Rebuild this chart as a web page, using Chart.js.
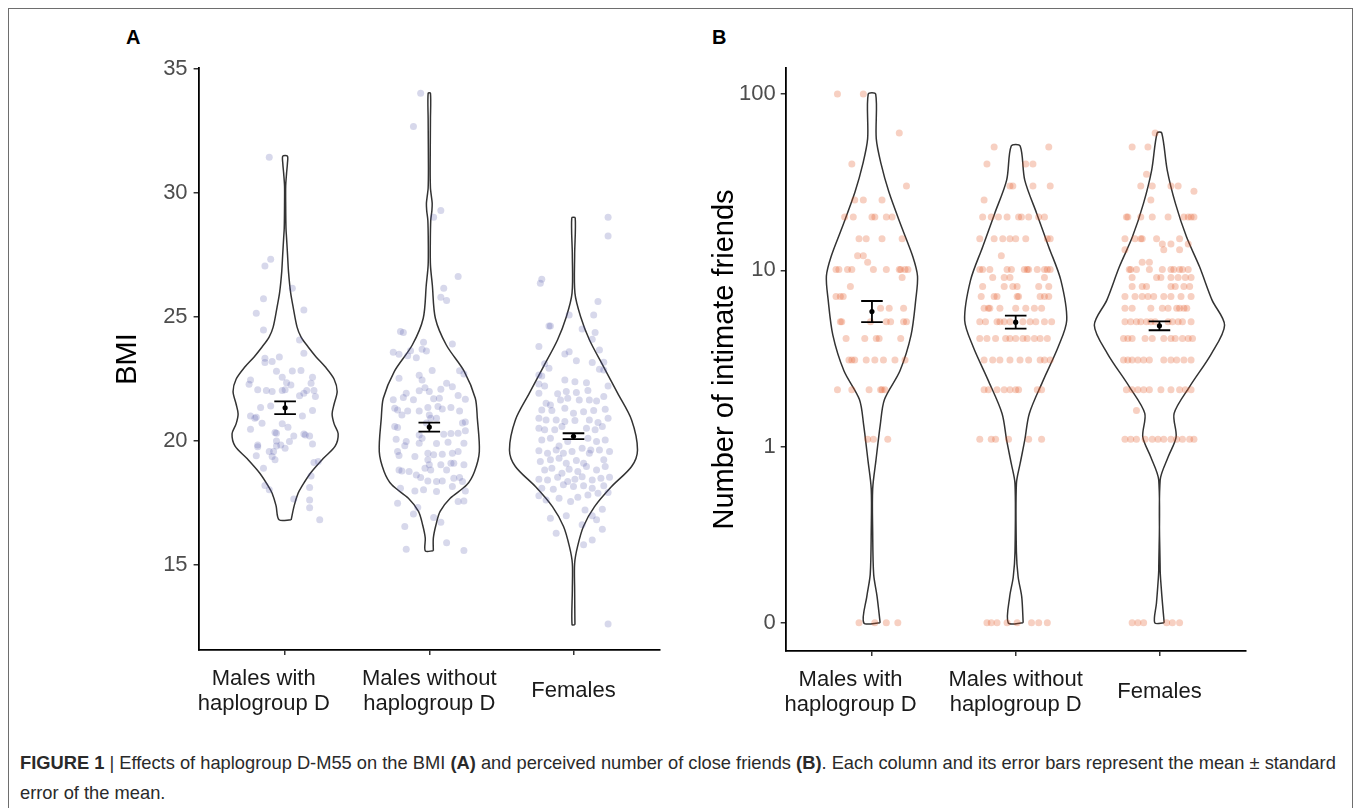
<!DOCTYPE html>
<html>
<head>
<meta charset="utf-8">
<script src="https://cdn.jsdelivr.net/npm/chart.js@4.4.1/dist/chart.umd.min.js"></script>
<style>
  body { margin: 0; background: #fff; width: 1355px; height: 808px; overflow: hidden; position: relative;
         font-family: "Liberation Sans", Arial, sans-serif; }
  .frame { position: absolute; left: 8px; top: 8px; width: 1343px; height: 900px; border: 1px solid #6e6e6e; }
  .panel { position: absolute; top: 40px; width: 575px; height: 700px; }
  .tag { position: absolute; top: 27px; font-size: 20px; line-height: 20px; font-weight: bold; color: #000; }
  .cap { position: absolute; left: 20px; color: #2a2a2a; white-space: nowrap; line-height: 30px; font-size: 19px;
         transform-origin: 0 50%; }
</style>
</head>
<body>
<div class="frame"></div>
<div class="tag" style="left:126px">A</div>
<div class="tag" style="left:712px">B</div>
<div class="panel" style="left:100px"><canvas id="bmiChart" width="575" height="700"></canvas></div>
<div class="panel" style="left:688px"><canvas id="friendsChart" width="575" height="700"></canvas></div>
<div class="cap" id="cap1" style="top:748px"><b>FIGURE 1</b> | Effects of haplogroup D-M55 on the BMI <b>(A)</b> and perceived number of close friends <b>(B)</b>. Each column and its error bars represent the mean ± standard</div>
<div class="cap" id="cap2" style="top:778px">error of the mean.</div>

<script>
// categories (x axis)
const groups = [['Males with', 'haplogroup D'], ['Males without', 'haplogroup D'], 'Females'];

// panel A : BMI ticks
const bmiTicks = [15, 20, 25, 30, 35];

// panel B : friends, plotted as log10(n + 0.1)
const friendTickAt = [0.1, 1, 10, 100];
const friendTickLabels = ['0', '1', '10', '100'];

// BMI points : [jitter, BMI]
const bmiWithD = [[-0.11,31.45],[-0.10,27.34],[-0.14,27.07],[0.05,26.17],[-0.15,25.74],[-0.20,25.16],[0.13,25.29],[-0.15,24.48],[0.10,24.08],[0.13,23.55],[-0.14,23.35],[-0.09,23.21],[-0.04,23.4],[-0.14,23.17],[-0.06,22.82],[0.05,22.83],[0.11,22.85],[-0.24,22.47],[-0.02,22.58],[0.19,22.58],[-0.25,22.3],[0.01,22.36],[0.04,22.27],[0.18,22.34],[-0.19,22.07],[-0.13,22.04],[-0.09,22.0],[-0.02,22.04],[0,22.07],[0.15,22.04],[0.10,21.83],[0.13,21.93],[0.20,22.04],[0.21,21.8],[-0.17,21.36],[-0.10,21.42],[0.19,21.24],[0.12,21.02],[-0.24,21.02],[-0.21,20.93],[-0.20,20.97],[-0.16,20.72],[-0.02,20.70],[0.02,20.56],[-0.24,20.48],[-0.07,20.35],[-0.06,20.32],[0.06,20.21],[0.13,20.29],[0.14,20.25],[0.17,20.21],[-0.06,20.01],[0.03,19.99],[0.19,19.89],[-0.19,19.85],[-0.19,19.78],[-0.06,19.81],[-0.03,19.85],[0,19.72],[-0.11,19.58],[-0.08,19.58],[-0.20,19.41],[-0.09,19.38],[-0.07,19.25],[0.20,19.14],[0.23,19.18],[-0.15,18.91],[0.18,18.60],[-0.14,18.21],[-0.11,18.04],[0.17,18.13],[0.06,17.67],[0.17,17.63],[0.17,17.32],[0.24,16.83]];
const bmiWithoutD = [[-0.06,34.03],[-0.11,32.69],[0.08,29.30],[0.03,29.03],[0.20,26.64],[0.10,26.17],[0.08,25.81],[0.12,25.67],[-0.20,24.42],[-0.18,24.38],[0.16,23.92],[-0.04,23.99],[-0.25,23.59],[-0.21,23.51],[-0.13,23.65],[-0.05,23.71],[-0.02,23.64],[-0.09,23.37],[-0.15,23.45],[0.21,22.84],[0.24,22.71],[0.02,22.85],[-0.07,22.66],[-0.21,22.54],[-0.05,22.47],[0.12,22.34],[0.16,22.20],[0.08,22.10],[0,22.0],[-0.07,22.03],[-0.03,22.16],[-0.16,21.93],[-0.25,21.67],[-0.18,21.76],[-0.11,21.67],[0.20,21.84],[0.25,21.69],[0.03,21.71],[0.07,21.73],[-0.24,21.33],[-0.22,21.26],[-0.19,21.06],[-0.15,21.22],[-0.07,21.22],[-0.01,21.36],[0.06,21.40],[0.09,21.30],[0.15,21.36],[0.21,21.22],[0,21.06],[0.01,20.93],[0.05,20.93],[-0.02,20.73],[-0.24,20.59],[-0.22,20.55],[0.23,20.73],[0.25,20.77],[0.10,20.28],[0.15,20.31],[0.20,20.32],[0.25,20.42],[-0.07,20.25],[-0.05,20.12],[-0.23,20.08],[-0.16,19.99],[-0.17,19.82],[-0.07,19.92],[0.05,19.91],[0.13,19.96],[0.24,19.92],[-0.22,19.58],[-0.21,19.42],[-0.10,19.38],[-0.01,19.51],[0.03,19.45],[0.09,19.47],[0.16,19.51],[0.20,19.58],[-0.01,19.25],[0,19.05],[0.08,19.05],[0.15,19.11],[0.17,19.11],[-0.21,18.84],[-0.19,18.80],[-0.14,18.78],[-0.09,18.64],[-0.03,18.91],[0.01,18.84],[0.12,18.84],[0.24,19.05],[-0.06,18.54],[-0.01,18.40],[0.05,18.37],[0.09,18.40],[0.17,18.51],[0.21,18.54],[0.23,18.37],[-0.20,18.10],[-0.10,17.99],[-0.04,18.04],[0.05,17.97],[0.16,18.17],[0.25,17.99],[-0.22,17.50],[-0.08,17.33],[0.20,17.57],[0.24,17.59],[-0.11,17.06],[0.03,16.92],[-0.17,16.56],[0.08,16.73],[-0.16,15.64],[0.12,15.90],[0.24,15.59]];
const bmiFemales = [[0.24,29.03],[0.24,28.28],[-0.23,26.37],[-0.22,26.53],[0.17,25.63],[-0.17,24.65],[-0.16,24.65],[0.14,25.09],[-0.03,25.09],[-0.24,23.82],[0.06,24.52],[0.15,24.38],[0.13,24.11],[-0.06,23.52],[-0.03,23.61],[0.18,23.68],[-0.20,23.12],[0.02,23.24],[0.21,23.18],[0.13,23.17],[-0.24,22.67],[-0.22,22.63],[-0.17,22.94],[0.18,22.90],[0.21,22.87],[-0.06,22.47],[0.01,22.40],[0.09,22.36],[-0.24,22.31],[-0.20,22.23],[0.24,22.23],[-0.11,21.91],[-0.05,22.0],[0.02,21.96],[0.10,22.04],[-0.24,21.93],[-0.19,21.53],[-0.16,21.46],[-0.09,21.66],[-0.04,21.73],[0.04,21.66],[0.11,21.66],[0.16,21.62],[0.21,21.80],[-0.22,21.26],[-0.15,21.24],[-0.06,21.33],[0,21.13],[0.07,21.19],[0.14,21.24],[0.22,21.29],[-0.24,20.93],[-0.19,20.86],[-0.12,20.86],[-0.06,20.79],[0.01,20.83],[0.11,20.86],[0.17,20.75],[0.24,20.93],[-0.24,20.52],[-0.20,20.46],[-0.13,20.46],[-0.08,20.59],[0.09,20.52],[0.15,20.46],[0.20,20.59],[-0.22,20.05],[-0.16,20.12],[-0.10,19.81],[-0.04,19.99],[0.10,20.12],[0.16,19.99],[0.22,20.05],[-0.24,19.62],[-0.18,19.51],[-0.12,19.65],[-0.07,19.51],[-0.01,19.58],[0.06,19.72],[0.12,19.65],[0.18,19.65],[0.25,19.58],[-0.23,19.18],[-0.16,19.25],[-0.10,19.31],[-0.05,19.11],[0.02,19.22],[0.07,19.11],[0.11,19.51],[0.21,19.25],[-0.20,18.84],[-0.15,18.91],[-0.08,18.71],[-0.03,18.87],[0.03,18.78],[0.09,18.98],[0.16,18.84],[0.22,18.98],[-0.24,18.47],[-0.18,18.44],[-0.11,18.55],[-0.04,18.37],[0.01,18.47],[0.06,18.57],[0.13,18.44],[0.19,18.51],[0.25,18.55],[-0.22,18.10],[-0.14,18.06],[-0.07,18.24],[0,18.17],[0.07,18.20],[0.13,18.10],[0.21,18.20],[-0.24,17.80],[-0.19,17.63],[-0.10,17.70],[-0.02,17.57],[0.03,17.74],[0.10,17.83],[0.17,17.90],[0.24,17.93],[-0.16,16.89],[-0.05,16.99],[0.08,17.23],[0.13,16.99],[0.16,16.83],[0.20,17.26],[-0.12,16.29],[0.06,16.63],[0.13,16.02],[0.07,15.82],[0.20,16.45],[0.24,12.63]];

// BMI violin outlines : [BMI, half width]
const bmiShapeWithD = [[16.83,0.042],[17.4,0.063],[17.9,0.090],[18.2,0.118],[18.7,0.174],[19.3,0.264],[19.8,0.347],[20.3,0.368],[20.7,0.340],[21.1,0.326],[21.5,0.340],[22.0,0.361],[22.5,0.340],[23.0,0.278],[23.4,0.215],[23.8,0.160],[24.2,0.111],[24.6,0.083],[25.4,0.056],[26.0,0.038],[26.8,0.024],[27.5,0.017],[28.2,0.010],[28.6,0.006],[29.5,0.004],[30.3,0.004],[30.8,0.010],[31.2,0.016],[31.5,0.016]];
const bmiShapeWithoutD = [[15.58,0.028],[16.09,0.028],[16.62,0.046],[17.17,0.075],[17.7,0.145],[18.24,0.26],[18.77,0.313],[19.58,0.347],[20.93,0.333],[21.73,0.319],[22.81,0.243],[23.88,0.118],[24.96,0.042],[26.3,0.021],[27.1,0.008],[28.0,0.007],[28.9,0.010],[29.3,0.018],[29.6,0.02],[29.9,0.014],[30.2,0.008],[31.0,0.006],[33.0,0.008],[34.03,0.008]];
const bmiShapeFemales = [[12.6,0.010],[14.0,0.008],[15.08,0.008],[15.75,0.028],[16.56,0.069],[17.36,0.146],[18.17,0.264],[18.98,0.403],[19.65,0.444],[20.86,0.403],[21.94,0.306],[23.01,0.208],[24.08,0.111],[25.03,0.049],[25.97,0.010],[27.5,0.008],[29.0,0.012]];

// BMI mean and standard error
const bmiMean = [21.35, 20.57, 20.2];
const bmiSe = [0.26, 0.18, 0.12];

// friends points : [jitter, number of friends]
const friendsWithD = [[-0.24,100],[-0.06,100],[0.19,60],[-0.14,40],[0.24,30],[-0.12,25],[-0.06,25],[0.07,25],[-0.19,20],[-0.13,20],[0,20],[0.02,20],[0.10,20],[0.14,20],[-0.09,15],[-0.04,15],[0.07,15],[0.21,15],[-0.06,12],[-0.10,12],[-0.03,11],[-0.25,10],[-0.23,10],[-0.17,10],[-0.14,10],[0.01,10],[0.10,10],[0.19,10],[0.20,10],[0.23,10],[0.25,10],[0.21,9],[-0.15,8],[-0.25,7],[-0.22,7],[-0.20,7],[0.06,6],[0.12,6],[0.22,6],[-0.22,5],[-0.21,5],[-0.01,5],[0.10,5],[0.13,5],[0.22,5],[0.24,5],[-0.18,4],[-0.05,4],[0.03,4],[0.05,4],[0.20,4],[-0.16,3],[-0.14,3],[-0.12,3],[-0.04,3],[0.02,3],[0.08,3],[0.16,3],[0.23,3],[-0.24,2],[-0.14,2],[-0.02,2],[0.06,2],[0.07,2],[0.09,2],[-0.03,1],[0.01,1],[0.11,1],[-0.09,0],[0.02,0],[0.10,0],[0.18,0]];
const friendsWithoutD = [[-0.15,50],[0.23,50],[-0.20,40],[0.07,40],[0.12,40],[-0.04,30],[-0.02,30],[0.12,30],[0.24,30],[-0.22,25],[-0.23,20],[-0.17,20],[-0.12,20],[-0.06,20],[0.02,20],[0.04,20],[0.09,20],[0.16,20],[0.20,20],[-0.25,15],[-0.15,15],[-0.09,15],[-0.04,15],[0,15],[0.07,15],[0.22,15],[0.24,15],[-0.10,12],[-0.25,10],[-0.23,10],[-0.18,10],[-0.06,10],[-0.03,10],[0.06,10],[0.08,10],[0.09,10],[0.15,10],[0.20,10],[0.22,10],[0.24,10],[-0.16,9],[-0.08,9],[-0.04,9],[0.20,9],[-0.23,8],[-0.08,8],[-0.02,8],[0.01,8],[0.16,8],[0.23,8],[-0.24,7],[-0.15,7],[-0.13,7],[0.01,7],[0.02,7],[0.17,7],[0.20,7],[0.23,7],[-0.22,6],[-0.19,6],[-0.18,6],[-0.11,6],[0,6],[0.07,6],[0.13,6],[0.18,6],[-0.25,5],[-0.21,5],[-0.13,5],[-0.11,5],[-0.08,5],[-0.04,5],[0.05,5],[0.10,5],[0.14,5],[0.20,5],[0.25,5],[-0.25,4],[-0.20,4],[-0.14,4],[-0.07,4],[-0.04,4],[0,4],[0.05,4],[0.08,4],[0.13,4],[0.17,4],[0.22,4],[-0.22,3],[-0.16,3],[-0.11,3],[-0.04,3],[0.03,3],[0.09,3],[0.17,3],[0.20,3],[0.24,3],[-0.22,2],[-0.19,2],[-0.13,2],[-0.08,2],[-0.04,2],[0,2],[0.02,2],[0.15,2],[0.18,2],[-0.25,1],[-0.17,1],[-0.14,1],[-0.05,1],[0.09,1],[0.18,1],[-0.20,0],[-0.17,0],[-0.13,0],[-0.06,0],[0.01,0],[0.11,0],[0.16,0],[0.22,0]];
const friendsFemales = [[-0.03,60],[-0.19,50],[-0.08,50],[-0.09,35],[-0.13,30],[-0.05,30],[0.08,30],[0.13,30],[0.24,28],[-0.06,25],[-0.23,20],[-0.22,20],[-0.13,20],[-0.05,20],[0.06,20],[0.17,20],[0.20,20],[0.22,20],[0.24,20],[-0.24,15],[-0.17,15],[-0.13,15],[-0.12,15],[-0.02,15],[0.14,15],[0.02,14],[0.08,14],[0.20,14],[-0.24,13],[0.03,13],[0.14,13],[-0.12,11],[-0.07,11],[-0.21,10],[-0.20,10],[-0.16,10],[-0.07,10],[0.02,10],[0.08,10],[0.10,10],[0.14,10],[0.16,10],[0.20,10],[-0.19,9],[-0.02,9],[0.01,9],[0.08,9],[0.13,9],[0.18,9],[0.22,9],[-0.19,8],[-0.12,8],[-0.09,8],[0.08,8],[0.11,8],[0.17,8],[0.21,8],[-0.24,7],[-0.17,7],[-0.12,7],[-0.08,7],[-0.04,7],[0.03,7],[0.08,7],[0.15,7],[0.22,7],[-0.24,6],[-0.19,6],[-0.06,6],[0.02,6],[0.06,6],[0.12,6],[0.14,6],[0.17,6],[0.19,6],[-0.24,5],[-0.20,5],[-0.16,5],[-0.13,5],[-0.09,5],[-0.06,5],[-0.03,5],[0.06,5],[0.09,5],[0.13,5],[0.16,5],[0.22,5],[-0.25,4],[-0.22,4],[-0.19,4],[-0.10,4],[-0.05,4],[0.03,4],[0.08,4],[0.11,4],[0.16,4],[0.20,4],[0.23,4],[-0.25,3],[-0.22,3],[-0.19,3],[-0.15,3],[-0.11,3],[-0.07,3],[0.03,3],[0.08,3],[0.12,3],[0.17,3],[0.22,3],[-0.23,2],[-0.19,2],[-0.15,2],[-0.11,2],[-0.07,2],[0.01,2],[0.08,2],[0.14,2],[0.18,2],[0.22,2],[-0.16,1.5],[-0.24,1],[-0.20,1],[-0.16,1],[-0.10,1],[-0.05,1],[-0.01,1],[0.03,1],[0.08,1],[0.12,1],[0.16,1],[0.21,1],[0.24,1],[-0.19,0],[-0.15,0],[-0.11,0],[0.05,0],[0.09,0],[0.14,0]];

// friends violin outlines : [log10(n + 0.1), half width]
const friendShapeWithD = [[-1.0,0.057],[-0.847,0.035],[-0.725,0.012],[-0.482,0.005],[-0.24,0.005],[-0.077,0.028],[0.125,0.058],[0.267,0.087],[0.43,0.195],[0.632,0.272],[0.835,0.305],[0.967,0.317],[1.078,0.284],[1.24,0.209],[1.444,0.118],[1.605,0.063],[1.747,0.030],[2.0,0.026]];
const friendShapeWithoutD = [[-1.0,0.052],[-0.853,0.042],[-0.74,0.017],[-0.6,0.005],[-0.21,0.005],[-0.096,0.031],[0.036,0.063],[0.188,0.095],[0.377,0.192],[0.566,0.296],[0.717,0.355],[0.944,0.314],[1.133,0.230],[1.323,0.146],[1.512,0.063],[1.705,0.031]];
const friendShapeFemales = [[-1.0,0.033],[-0.89,0.021],[-0.796,0.012],[-0.7,0.005],[-0.19,0.005],[-0.058,0.061],[0.055,0.116],[0.188,0.102],[0.339,0.209],[0.528,0.362],[0.689,0.453],[0.831,0.366],[1.02,0.279],[1.19,0.188],[1.38,0.111],[1.569,0.054],[1.779,0.016]];

// friends mean and standard error, on the log10(n + 0.1) scale
const friendMeanLog = [0.766, 0.706, 0.685];
const friendSeLog = [0.06, 0.037, 0.025];

const FONT = '"Liberation Sans", Arial, sans-serif';
const CAP = 0.075;
const toLog = n => Math.log10(n + 0.1);

function violin(pos, shape) {
  const right = shape.map(s => ({x: pos + s[1], y: s[0]}));
  const left = shape.slice().reverse().map(s => ({x: pos - s[1], y: s[0]}));
  return {
    data: right.concat(left, [right[0]]),
    showLine: true, pointRadius: 0, borderColor: '#333', borderWidth: 1.5,
    tension: 0.3, fill: false, order: 3
  };
}

function cloud(pos, pts, toY, color) {
  return {
    data: pts.map(p => ({x: pos + p[0], y: toY(p[1])})),
    pointRadius: 3.5, pointBackgroundColor: color, pointBorderWidth: 0, order: 2
  };
}

function seBars(means, ses) {
  const sets = [];
  means.forEach((m, i) => {
    const c = i + 1, lo = m - ses[i], hi = m + ses[i];
    const seg = [
      [{x: c, y: lo}, {x: c, y: hi}],
      [{x: c - CAP, y: lo}, {x: c + CAP, y: lo}],
      [{x: c - CAP, y: hi}, {x: c + CAP, y: hi}]
    ];
    seg.forEach(d => sets.push({data: d, showLine: true, pointRadius: 0, borderColor: '#000', borderWidth: 1.8, order: 1}));
  });
  sets.push({
    data: means.map((m, i) => ({x: i + 1, y: m})),
    pointRadius: 2.6, pointBackgroundColor: '#000', pointBorderWidth: 0, order: 0
  });
  return sets;
}

function axisStyle() {
  return {
    grid: {display: true, drawOnChartArea: false, drawTicks: true, tickLength: 5, color: '#333', lineWidth: 1.5},
    border: {display: true, color: '#000', width: 1.8}
  };
}

function options(cfg) {
  return {
    responsive: false, animation: false, devicePixelRatio: 1,
    layout: {padding: {top: 28, right: cfg.rightPad, left: 0, bottom: 0}},
    plugins: {legend: {display: false}, tooltip: {enabled: false}},
    scales: {
      x: Object.assign({
        type: 'linear', min: 0.4, max: 3.6, bounds: 'data',
        afterBuildTicks: s => { s.ticks = [1, 2, 3].map(v => ({value: v})); },
        afterFit: s => { s.height = cfg.xHeight; },
        ticks: {
          autoSkip: false, maxRotation: 0, crossAlign: 'center', padding: 24, color: '#1a1a1a',
          font: {family: FONT, size: 22, lineHeight: 1.13},
          callback: (v, i) => i === 0 ? groups[0].map(t => t + '\u00a0'.repeat(7)) : groups[i]
        }
      }, axisStyle()),
      y: Object.assign({
        type: 'linear', min: cfg.yMin, max: cfg.yMax, bounds: 'data',
        afterBuildTicks: s => { s.ticks = cfg.ticks.map(v => ({value: v})); },
        afterFit: s => { s.width = cfg.yWidth; },
        ticks: {padding: cfg.tickPad, color: '#4d4d4d', font: {family: FONT, size: 22}, callback: cfg.label},
        title: {display: true, text: cfg.title, color: '#000', font: {family: FONT, size: 29},
                padding: {top: cfg.titlePad, bottom: 0}}
      }, axisStyle())
    }
  };
}

const bmiColor = 'rgba(72,78,165,0.22)';
const friendColor = 'rgba(228,85,35,0.28)';

new Chart(document.getElementById('bmiChart'), {
  type: 'scatter',
  data: {
    datasets: [
      violin(1, bmiShapeWithD), violin(2, bmiShapeWithoutD), violin(3, bmiShapeFemales),
      cloud(1, bmiWithD, v => v, bmiColor), cloud(2, bmiWithoutD, v => v, bmiColor), cloud(3, bmiFemales, v => v, bmiColor)
    ].concat(seBars(bmiMean, bmiSe))
  },
  options: options({
    yMin: 11.58, yMax: 35.05, ticks: bmiTicks, label: v => String(v), title: 'BMI',
    rightPad: 15, xHeight: 90, yWidth: 98.6, titlePad: 11, tickPad: 6
  })
});

new Chart(document.getElementById('friendsChart'), {
  type: 'scatter',
  data: {
    datasets: [
      violin(1, friendShapeWithD), violin(2, friendShapeWithoutD), violin(3, friendShapeFemales),
      cloud(1, friendsWithD, toLog, friendColor), cloud(2, friendsWithoutD, toLog, friendColor), cloud(3, friendsFemales, toLog, friendColor)
    ].concat(seBars(friendMeanLog, friendSeLog))
  },
  options: options({
    yMin: -1.16, yMax: 2.148, ticks: friendTickAt.map(Math.log10), label: (v, i) => friendTickLabels[i],
    title: 'Number of intimate friends',
    rightPad: 17.3, xHeight: 89, yWidth: 97.7, titlePad: 19.6, tickPad: 5
  })
});

// squeeze the first caption line to the printed width (the print uses a narrow face)
const cap1 = document.getElementById('cap1');
const cap2 = document.getElementById('cap2');
const k = Math.min(1, 1316 / cap1.scrollWidth);
cap1.style.transform = 'scaleX(' + k + ')';
cap2.style.transform = 'scaleX(' + k + ')';
</script>
</body>
</html>
